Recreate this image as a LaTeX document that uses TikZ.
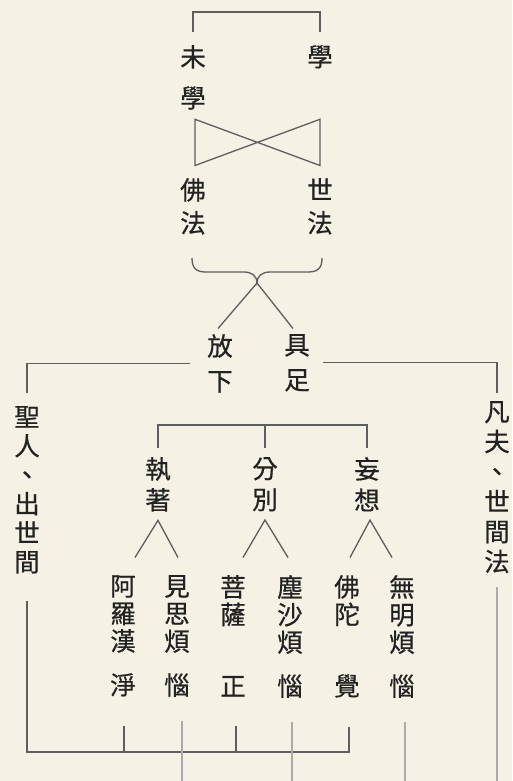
\documentclass[tikz,border=0pt]{standalone}
\usepackage{fontspec}
\newfontfamily\cjk[FakeBold=0.6]{Noto Sans CJK TC}
\usetikzlibrary{calc}

\definecolor{paper}{HTML}{F5F1E5}
\definecolor{ink}{HTML}{222222}
\definecolor{rule}{HTML}{5E5E5E}
\definecolor{pale}{HTML}{ABABAB}

\tikzset{
  zi/.style={font={\cjk\fontsize{25.5}{#1}\selectfont}, text=ink, align=center, inner sep=0pt, anchor=north},
  zi/.default=28,
  ln/.style={draw=rule, line width=1.3pt},
  faint/.style={draw=pale, line width=1.1pt}
}

\begin{document}
\begin{tikzpicture}[x=1pt,y=-1pt]
    % paper and frame
    \fill[paper] (0,0) rectangle (512,781);
    \useasboundingbox (0,0) rectangle (512,781);

    % top rows
    \node[zi=41] (mixue) at (193,45) {未\\學};
    \node[zi] (xue) at (320,45) {學};
    \node[zi=33] (fofa) at (193,178) {佛\\法};
    \node[zi=33] (shifa) at (320,178) {世\\法};
    \node[zi=35] (fangxia) at (220,334) {放\\下};
    \node[zi=35] (juzu) at (297,334) {具\\足};

    % the two sides
    \node[zi=29] (shengren) at (27,406) {聖\\人\\、\\出\\世\\間};
    \node[zi=30] (fanfu) at (497,401) {凡\\夫\\、\\世\\間\\法};

    % middle row
    \node[zi=31] (zhizhe) at (158,457) {執\\著};
    \node[zi=31] (fenbie) at (265,457) {分\\別};
    \node[zi=31] (wangxiang) at (367,457) {妄\\想};

    % bottom row
    \node[zi=27.5] (ahan) at (123,575) {阿\\羅\\漢\\[16.5pt]淨};
    \node[zi=27.5] (jiansi) at (177,575) {見\\思\\煩\\[16.5pt]惱};
    \node[zi=27.5] (puti) at (233,575) {菩\\薩\\[44pt]正};
    \node[zi=27.5] (chensha) at (290,575) {塵\\沙\\煩\\[16.5pt]惱};
    \node[zi=27.5] (fojue) at (347,575) {佛\\陀\\[44pt]覺};
    \node[zi=27.5] (wuming) at (402,575) {無\\明\\煩\\[16.5pt]惱};

    % bracket over the top
    \coordinate (bar1) at (256,12);
    \draw[ln] ([yshift=12.5pt]mixue.north) |- (bar1) -| ([yshift=12.5pt]xue.north);

    % crossing
    \coordinate (a1) at ([xshift=2pt,yshift=-9.5pt]mixue.south);
    \coordinate (a2) at ([xshift=2pt,yshift=12.5pt]fofa.north);
    \coordinate (b1) at (a1 -| shifa.north);
    \coordinate (b2) at (a2 -| shifa.north);
    \draw[ln] (a1) -- (b2) -- (b1) -- (a2) -- cycle;

    % brace
    \coordinate (cusp) at (257,283);
    \draw[ln] (192,258) .. controls (192,268) and (196,272) .. (206,272) -- (244,272)
        .. controls (252,272) and (257,276) .. (cusp)
        .. controls (257,276) and (262,272) .. (270,272) -- (308,272)
        .. controls (318,272) and (322,268) .. (322,258);
    \draw[ln] ([xshift=-2pt,yshift=5.5pt]fangxia.north) -- (cusp) -- ([xshift=-4pt,yshift=5.5pt]juzu.north);

    % out to both sides
    \draw[ln] ([xshift=-17pt]fangxia.west) -| ([yshift=13pt]shengren.north);
    \draw[ln] ([xshift=13pt]juzu.east) -| ([yshift=8pt]fanfu.north);

    % second bracket
    \coordinate (bar2) at (265,425);
    \draw[ln] ([yshift=9.5pt]zhizhe.north) |- (bar2) -| ([yshift=9.5pt]wangxiang.north);
    \draw[ln] (bar2) -- ([yshift=9.5pt]fenbie.north);

    % forks
    \draw[ln] ([xshift=12pt,yshift=17.5pt]ahan.north) -- ([yshift=-8.5pt]zhizhe.south) -- ([xshift=1pt,yshift=17.5pt]jiansi.north);
    \draw[ln] ([xshift=10pt,yshift=17.5pt]puti.north) -- ([yshift=-8.5pt]fenbie.south) -- ([xshift=-2pt,yshift=17.5pt]chensha.north);
    \draw[ln] ([xshift=3pt,yshift=17.5pt]fojue.north) -- ([xshift=3pt,yshift=-8.5pt]wangxiang.south) -- ([xshift=-10pt,yshift=17.5pt]wuming.north);

    % bottom bar
    \coordinate (bar3) at (349,752);
    \coordinate (p1) at ([xshift=1pt,yshift=-29.5pt]ahan.south);
    \coordinate (p2) at ([xshift=3pt,yshift=-29.5pt]puti.south);
    \coordinate (p3) at ([xshift=2pt,yshift=-29.5pt]fojue.south);
    \draw[ln] ([yshift=-27.5pt]shengren.south) |- (bar3) -- (p3);
    \draw[ln] (p1) -- (p1 |- bar3);
    \draw[ln] (p2) -- (p2 |- bar3);

    % lines running off the page
    \coordinate (floor) at (0,790);
    \coordinate (q1) at ([xshift=5pt,yshift=-23.5pt]jiansi.south);
    \coordinate (q2) at ([xshift=2pt,yshift=-23.5pt]chensha.south);
    \coordinate (q3) at ([xshift=3pt,yshift=-23.5pt]wuming.south);
    \coordinate (q4) at ([yshift=-14pt]fanfu.south);
    \draw[faint] (q1) -- (q1 |- floor);
    \draw[faint] (q2) -- (q2 |- floor);
    \draw[faint] (q3) -- (q3 |- floor);
    \draw[faint] (q4) -- (q4 |- floor);
\end{tikzpicture}
\end{document}
